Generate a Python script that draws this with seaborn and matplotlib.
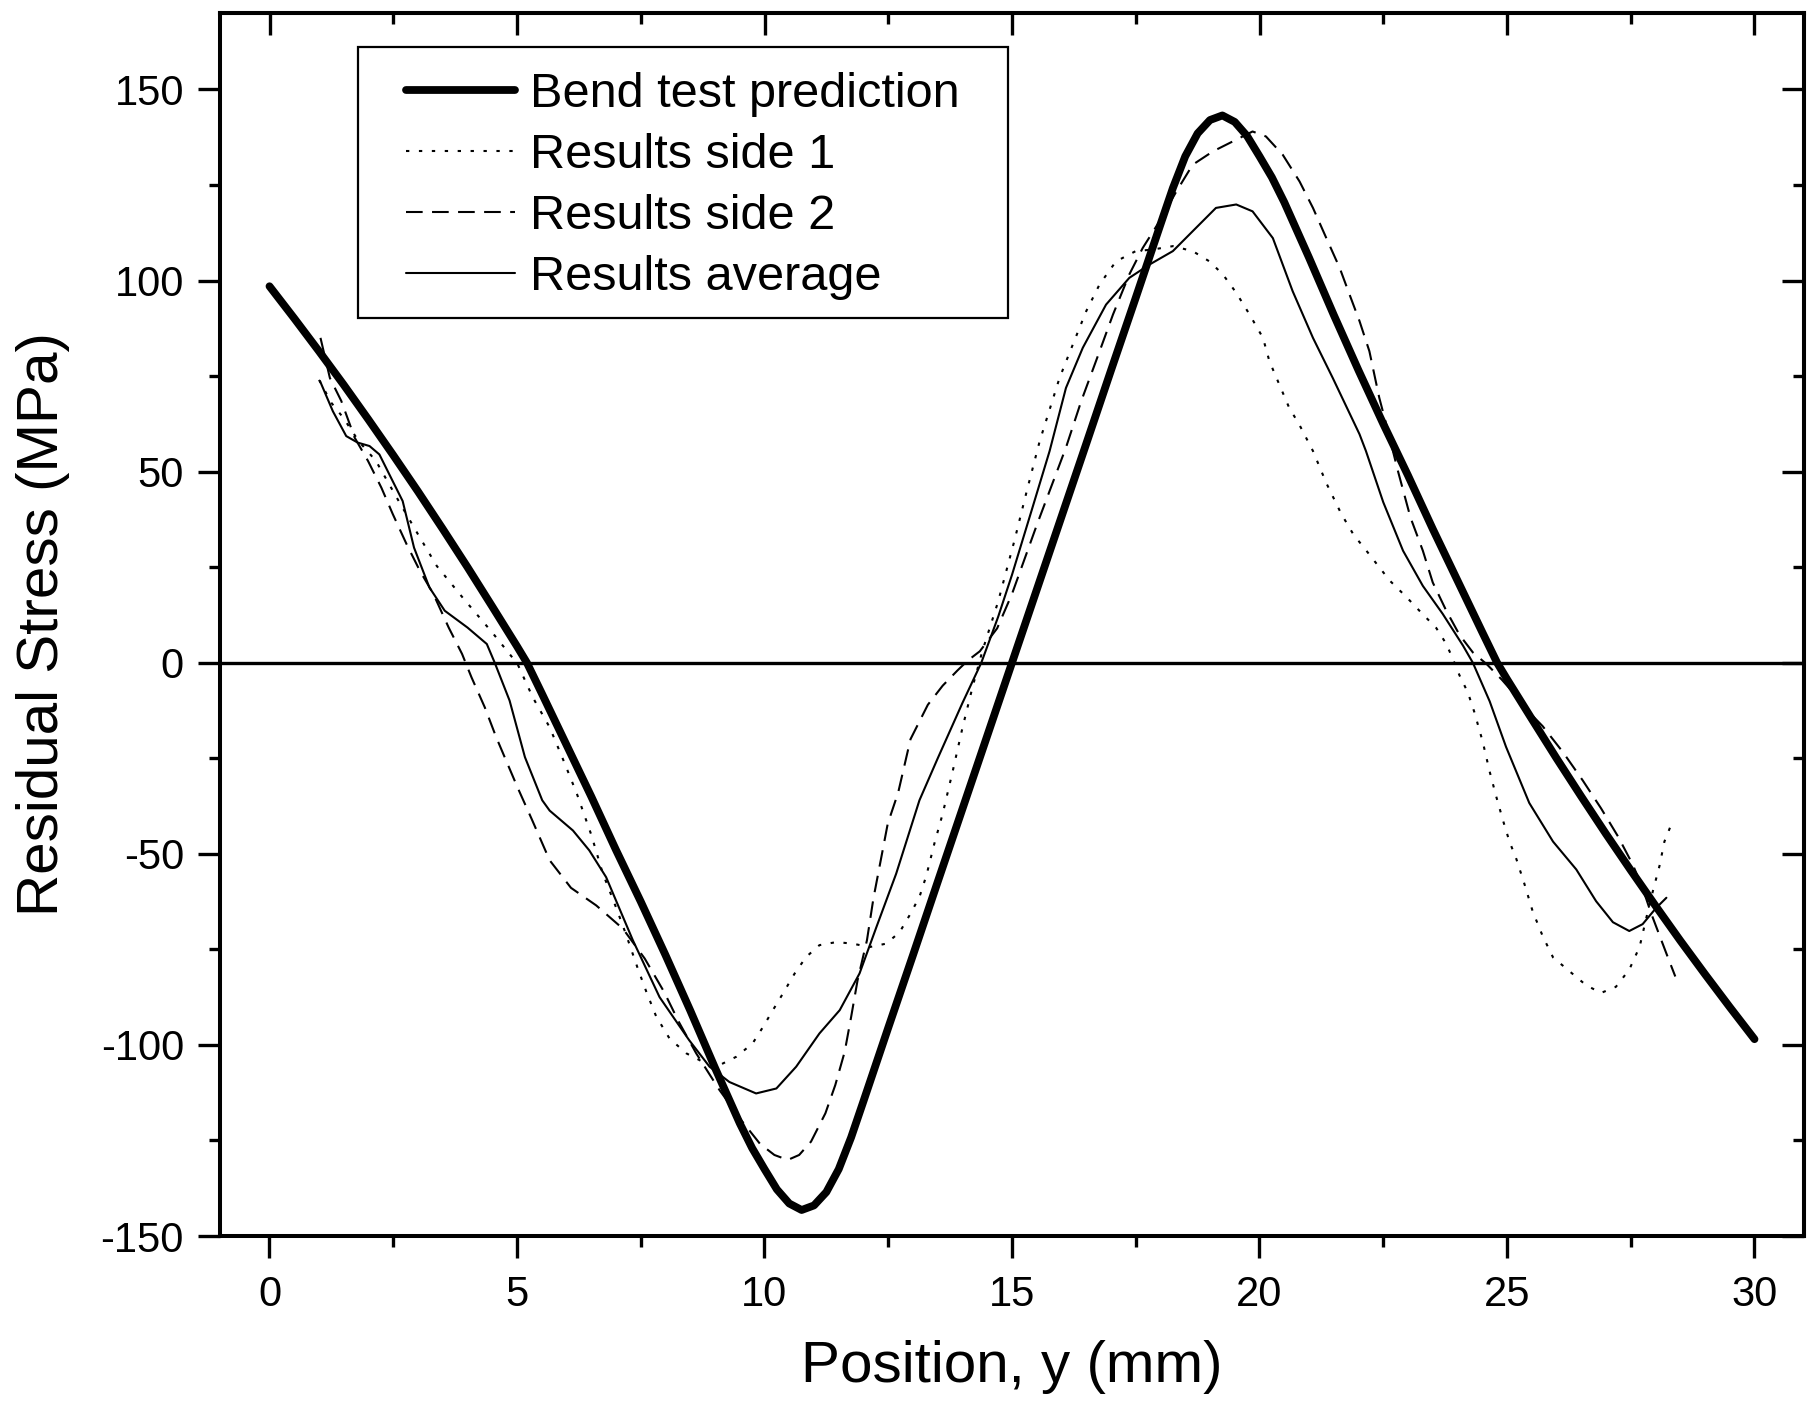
import matplotlib
matplotlib.use("Agg")
import matplotlib.pyplot as plt
from matplotlib.patches import Rectangle
from matplotlib.ticker import MultipleLocator
import seaborn as sns
import pandas as pd

# ---------------- data ----------------
bend_x = [0, 0.5, 1, 1.5, 2, 2.5, 3, 3.5, 4, 4.5, 5, 5.2, 5.5, 6, 6.5, 7, 7.5, 8, 8.5, 9,
          9.5, 9.75, 10, 10.25, 10.5, 10.75, 11, 11.25, 11.5, 11.75, 12, 12.5, 13, 13.5, 14,
          14.5, 15, 15.5, 16, 16.5, 17, 17.5, 18, 18.25, 18.5, 18.75, 19, 19.25, 19.5, 19.75,
          20, 20.25, 20.5, 21, 21.5, 22, 22.5, 23, 23.5, 24, 24.5, 24.8, 25, 25.5, 26, 26.5,
          27, 27.5, 28, 28.5, 29, 29.5, 30]
bend_y = [98.5, 90.1, 81.5, 72.7, 63.6, 54.3, 44.8, 35.0, 25.0, 14.7, 4.3, 0, -8, -21.5, -35,
          -49, -62.5, -76.5, -91, -106, -120.5, -127, -132.5, -137.8, -141.5, -143.2, -142.0,
          -138.5, -132.5, -124.2, -114.7, -95.5, -76.5, -57.3, -38.2, -19.1, 0, 19.1, 38.2,
          57.3, 76.5, 95.5, 114.7, 124.2, 132.5, 138.5, 142.0, 143.2, 141.5, 137.8, 132.5,
          127, 120.5, 106, 91, 76.5, 62.5, 49, 35, 21.5, 8, 0, -4.3, -14.7, -25.0, -35.0,
          -44.8, -54.3, -63.6, -72.7, -81.5, -90.1, -98.5]

side1_x = [1.0, 1.25, 1.49, 1.8, 2.15, 2.61, 3.0, 3.38, 3.93, 4.5, 5.01, 5.32, 5.66, 5.94,
           6.21, 6.5, 6.73, 7.0, 7.2, 7.44, 7.61, 7.81, 8.08, 8.42, 8.75, 9.09, 9.43, 9.76,
           9.97, 10.17, 10.37, 10.61, 10.84, 11.11, 11.45, 11.78, 12.12, 12.46, 12.73, 12.93,
           13.13, 13.27, 13.43, 13.6, 13.8, 14.0, 14.2, 14.4, 14.72, 15.05, 15.3, 15.56,
           15.96, 16.23, 16.5, 16.77, 17.1, 17.5, 17.84, 18.25, 18.65, 18.99, 19.26, 19.53,
           19.8, 20.07, 20.2, 20.4, 20.6, 20.8, 21.08, 21.35, 21.65, 21.9, 22.16, 22.63,
           22.96, 23.26, 23.57, 23.77, 23.91, 24.04, 24.21, 24.34, 24.51, 24.65, 24.78,
           24.92, 25.05, 25.19, 25.35, 25.52, 25.72, 25.93, 26.26, 26.6, 26.9, 27.2, 27.47,
           27.68, 27.81, 27.95, 28.08, 28.18, 28.35]
side1_y = [74, 68, 64.1, 58, 52.8, 42.3, 33.6, 25.3, 16.6, 7.9, -0.3, -9.1, -16.9, -25.6,
           -34.3, -45, -55, -64, -71, -80, -86, -92.5, -98.3, -102.2, -104.4, -105.3, -103.1,
           -99.6, -95.3, -90.9, -86.6, -81.3, -77, -73.9, -73.1, -73.5, -74.4, -73.5, -70.5,
           -66.1, -61.3, -55.7, -47.4, -39.5, -28.5, -17, -6.5, 3, 16, 32, 45, 58, 74.5, 83.3,
           92, 99, 105, 107.7, 108.1, 109, 107.7, 105, 101.6, 96.8, 91.1, 85, 78.9, 72.8, 66.7,
           62.4, 55.4, 47, 39, 33.5, 29.3, 21.5, 17.3, 13.2, 9.1, 5, 0.9, -3.3, -7.8, -12.9,
           -20.7, -28.5, -34.9, -41.3, -46.8, -51.4, -57.8, -65.1, -71.5, -77.1, -80.7, -84.4,
           -86.4, -84.8, -80.3, -74.3, -67, -59.6, -53.2, -46.8, -41.3]

side2_x = [1.03, 1.22, 1.45, 1.72, 1.99, 2.26, 2.49, 2.77, 3.04, 3.31, 3.62, 3.89, 4.08, 4.35,
           4.58, 4.78, 5.01, 5.3, 5.66, 6.09, 6.6, 7.14, 7.58, 7.97, 8.27, 8.62, 9.09, 9.53,
           9.91, 10.2, 10.47, 10.7, 10.94, 11.23, 11.43, 11.62, 11.75, 11.88, 12.07, 12.2,
           12.36, 12.49, 12.7, 12.95, 13.3, 13.6, 13.9, 14.1, 14.35, 14.7, 15.0, 15.5, 16.09,
           16.4, 16.77, 17.04, 17.37, 17.64, 17.98, 18.32, 18.65, 19.06, 19.46, 19.86, 20.13,
           20.47, 20.81, 21.08, 21.35, 21.62, 21.82, 22.02, 22.22, 22.42, 22.56, 22.8, 23.05,
           23.3, 23.5, 23.77, 24.04, 24.31, 24.6, 24.9, 25.19, 25.45, 25.72, 26.13, 26.53,
           26.9, 27.24, 27.54, 27.74, 27.91, 28.1, 28.25, 28.4]
side2_y = [85, 74.5, 68.5, 58.9, 52.8, 45.8, 38.9, 31, 24, 18, 9.2, 2.3, -3.8, -11.7, -19.5,
           -25.6, -32.6, -41, -51.7, -58.9, -63.5, -69.6, -77.4, -86.1, -94, -102.2, -111.8,
           -119.7, -125.9, -128.8, -130.1, -128.8, -125.3, -117.9, -110.5, -101.8, -92.7,
           -83.1, -72.6, -61.7, -50.9, -42.1, -34, -20, -11, -6, -2, 0.5, 3, 9, 18, 36, 56.3,
           68.5, 81.5, 91.1, 101.6, 108.5, 115.5, 123.3, 130.3, 133.8, 136.4, 139, 137.7,
           132.9, 125.9, 119, 111.1, 103.3, 96.3, 89.4, 81.5, 69.3, 62.4, 50, 38, 29.3, 21,
           13.7, 7.3, 2.7, -0.5, -4.5, -8.8, -13, -16.6, -23.4, -30.8, -38.1, -45.4, -52.8,
           -59, -65.5, -72, -77.1, -82.1]

avg_x = [1.02, 1.28, 1.55, 1.78, 2.02, 2.22, 2.42, 2.69, 2.92, 3.23, 3.54, 4.0, 4.39, 4.55,
         4.85, 5.16, 5.51, 5.66, 6.13, 6.46, 6.80, 7.34, 7.88, 8.48, 8.89, 9.29, 9.83, 10.24,
         10.64, 11.11, 11.52, 11.92, 12.26, 12.66, 13.13, 13.5, 14.0, 14.38, 14.72, 15.0, 15.4,
         15.76, 16.09, 16.43, 16.90, 17.37, 17.78, 18.25, 18.65, 19.12, 19.53, 19.86, 20.27,
         20.67, 21.08, 21.48, 22.02, 22.15, 22.5, 22.9, 23.3, 23.70, 24.11, 24.31, 24.65,
         24.98, 25.45, 25.93, 26.40, 26.80, 27.14, 27.47, 27.74, 28.01, 28.22]
avg_y = [73.7, 65.8, 59.3, 57.6, 56.7, 54.5, 49.3, 42.3, 30.1, 19.7, 13.6, 9.2, 4.9, 0, -9.9,
         -24.7, -36, -38.7, -43.9, -49.1, -56.1, -72.6, -87.5, -98.8, -105.7, -109.7, -112.7,
         -111.4, -105.7, -97, -90.9, -81.3, -69.2, -55.2, -36, -25, -10.5, 0, 12, 23, 40, 55.4,
         71.9, 82.4, 93.7, 100.7, 104.2, 107.7, 112.9, 119, 119.9, 118.1, 111.1, 97.2, 85,
         74.5, 59.8, 55.4, 42, 29.3, 20.1, 12.8, 4.5, 0, -10.1, -22, -36.7, -46.8, -54.1,
         -62.4, -67.9, -70.2, -68.4, -64.2, -61.5]

series_names = ["Bend test prediction", "Results side 1", "Results side 2", "Results average"]
x_ticks = [0, 5, 10, 15, 20, 25, 30]
y_ticks = [-150, -100, -50, 0, 50, 100, 150]

# ---------------- figure ----------------
sns.set_theme(style="white")
plt.rcParams["font.family"] = ["Liberation Sans", "DejaVu Sans"]
plt.rcParams["text.color"] = "black"
plt.rcParams["axes.labelcolor"] = "black"
plt.rcParams["xtick.color"] = "black"
plt.rcParams["ytick.color"] = "black"

W, H = 1808, 1403
fig = plt.figure(figsize=(W / 100, H / 100), dpi=100)
L, R, T, B = 220, 1804, 13, 1236
ax = fig.add_axes([L / W, 1 - B / H, (R - L) / W, (B - T) / H])
ax.set_facecolor("white")

frames = [
    (bend_x, bend_y, series_names[0], dict(lw=5.6, solid_capstyle="round",
                                            solid_joinstyle="round"), None),
    (side1_x, side1_y, series_names[1], dict(lw=1.5), (1.6, 4.6)),
    (side2_x, side2_y, series_names[2], dict(lw=1.5), (8.0, 4.5)),
    (avg_x, avg_y, series_names[3], dict(lw=1.5, solid_joinstyle="round"), None),
]
for xs, ys, name, kw, dash in frames:
    df = pd.DataFrame({"x": xs, "y": ys})
    sns.lineplot(data=df, x="x", y="y", ax=ax, color="black", label=name,
                 estimator=None, sort=False, **kw)
    if dash is not None:
        ax.lines[-1].set_dashes(dash)

ax.axhline(0, color="black", lw=2.4, zorder=1)

ax.set_xlim(-1, 31)
ax.set_ylim(-150, 170)
ax.set_xticks(x_ticks)
ax.set_yticks(y_ticks)
ax.set_xticklabels([str(v) for v in x_ticks])
ax.set_yticklabels([str(v) for v in y_ticks])
ax.xaxis.set_minor_locator(MultipleLocator(2.5))
ax.yaxis.set_minor_locator(MultipleLocator(25))

for sp in ax.spines.values():
    sp.set_visible(True)
    sp.set_color("black")
    sp.set_linewidth(2.9)

ax.tick_params(axis="both", which="major", direction="out", length=16, width=2.4,
               labelsize=30, colors="black", pad=10)
ax.tick_params(axis="both", which="minor", direction="out", length=8, width=2.4,
               colors="black")
ax.tick_params(axis="x", which="major", pad=12)
ax.tick_params(bottom=True, left=True, which="both")

# mirrored ticks on top and right, pointing inward
secx = ax.secondary_xaxis("top")
secx.set_xticks(x_ticks)
secx.xaxis.set_minor_locator(MultipleLocator(2.5))
secx.tick_params(which="major", direction="in", length=16, width=2.4, labeltop=False)
secx.tick_params(which="minor", direction="in", length=8, width=2.4)
secx.spines["top"].set_linewidth(2.9)
secy = ax.secondary_yaxis("right")
secy.set_yticks(y_ticks)
secy.yaxis.set_minor_locator(MultipleLocator(25))
secy.tick_params(which="major", direction="in", length=16, width=2.4, labelright=False)
secy.tick_params(which="minor", direction="in", length=8, width=2.4)
secy.spines["right"].set_linewidth(2.9)

ax.set_xlabel("Position, y (mm)", fontsize=42, color="black", labelpad=18)
ax.set_ylabel("Residual Stress (MPa)", fontsize=42, color="black", labelpad=22)

# legend
leg = ax.legend(loc="center left", bbox_to_anchor=(406 / W, 1 - 186 / H),
                bbox_transform=fig.transFigure, frameon=False, fontsize=35,
                handlelength=2.25, handletextpad=0.31, labelspacing=0.33, borderpad=0,
                borderaxespad=0)
for h in leg.get_lines():
    h.set_color("black")
for t in leg.get_texts():
    t.set_color("black")
fig.patches.append(Rectangle((358 / W, 1 - 318 / H), (1008 - 358) / W, (318 - 47) / H,
                             transform=fig.transFigure, fill=False, edgecolor="black",
                             lw=1.6, zorder=5))

fig.savefig("out.png", dpi=100, facecolor="white")
